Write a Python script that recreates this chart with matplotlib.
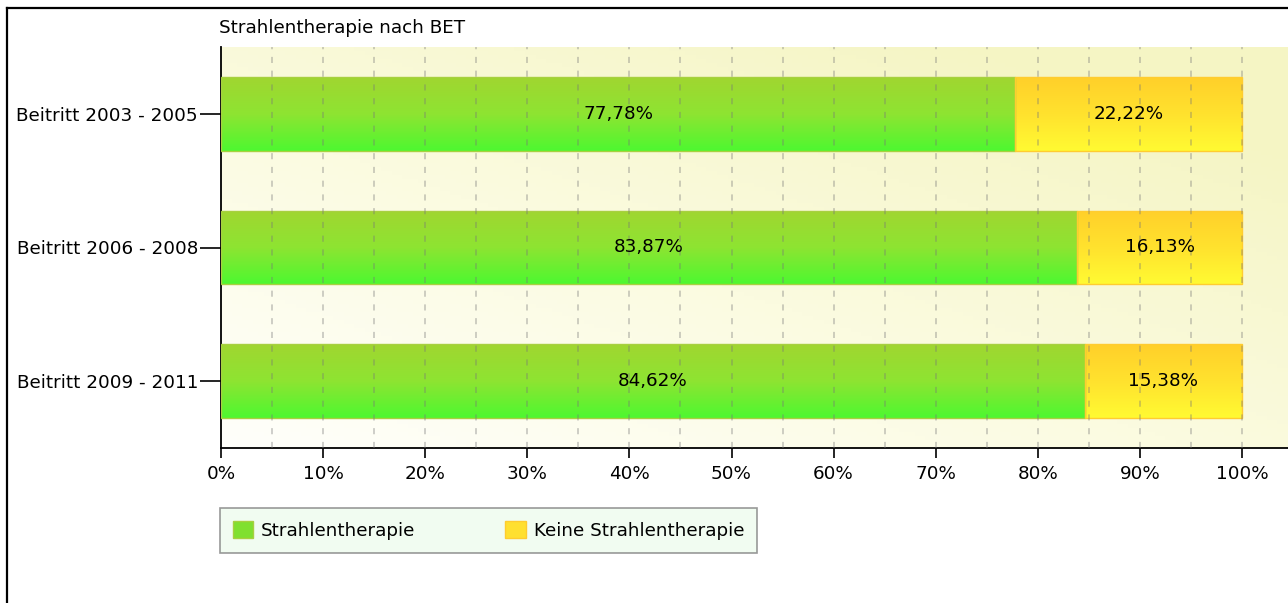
import matplotlib
matplotlib.use("Agg")
import matplotlib.pyplot as plt
import numpy as np
from matplotlib.lines import Line2D
from matplotlib.patches import Patch
from matplotlib.colors import LinearSegmentedColormap

# data
categories = ["Beitritt 2003 - 2005", "Beitritt 2006 - 2008", "Beitritt 2009 - 2011"]
strahlen = [77.78, 83.87, 84.62]
keine = [22.22, 16.13, 15.38]
series_names = ["Strahlentherapie", "Keine Strahlentherapie"]
x_ticks = [0, 10, 20, 30, 40, 50, 60, 70, 80, 90, 100]
title = "Strahlentherapie nach BET"

W, H = 1288, 603
FS = 13.2

plt.rcParams["font.family"] = ["DejaVu Sans"]
fig = plt.figure(figsize=(W / 100, H / 100), dpi=100)
fig.patch.set_facecolor("white")

ax_l, ax_r, ax_t, ax_b = 221, 1288, 47, 448
ax = fig.add_axes([ax_l / W, 1 - ax_b / H, (ax_r - ax_l) / W, (ax_b - ax_t) / H])
ax.set_xlim(0, (ax_r - ax_l) / 1021 * 100)
ax.set_ylim(len(categories) - 0.5, -0.5)

# background: pale yellow gradient, lighter towards bottom-left
gx, gy = np.meshgrid(np.linspace(0, 1, 200), np.linspace(0, 1, 100))
t = np.clip(0.55 * gx + 0.6 * gy, 0, 1)
bg_cmap = LinearSegmentedColormap.from_list("bg", ["#fffffb", "#fbfbe0", "#f5f5c4"])
ax.imshow(t, cmap=bg_cmap, extent=(0, 1, 0, 1), origin="lower",
          transform=ax.transAxes, aspect="auto", zorder=0)
ax.patch.set_visible(False)

green_cmap = LinearSegmentedColormap.from_list("g", ["#a0d630", "#8ee432", "#4ef830"])
yellow_cmap = LinearSegmentedColormap.from_list("y", ["#ffd02a", "#ffe22e", "#fffa32"])
vgrad = np.linspace(0, 1, 100).reshape(-1, 1)

y = np.arange(len(categories))
h = 0.55
b1 = ax.barh(y, strahlen, height=h, color="none", edgecolor="#a8d040",
             linewidth=1, zorder=3)
b2 = ax.barh(y, keine, left=strahlen, height=h, color="none", edgecolor="#ffcc30",
             linewidth=1, zorder=3)

for bars, cm in ((b1, green_cmap), (b2, yellow_cmap)):
    for bar in bars:
        x0, y0 = bar.get_x(), bar.get_y()
        x1, y1 = x0 + bar.get_width(), y0 + bar.get_height()
        im = ax.imshow(vgrad, cmap=cm, extent=(x0, x1, y1, y0), origin="upper",
                       aspect="auto", zorder=2)
        im.set_clip_path(bar)

# value labels
for i in range(len(categories)):
    ax.text(strahlen[i] / 2, y[i], f"{strahlen[i]:.2f}%".replace(".", ","),
            ha="center", va="center", fontsize=FS, zorder=5)
    ax.text(strahlen[i] + keine[i] / 2, y[i], f"{keine[i]:.2f}%".replace(".", ","),
            ha="center", va="center", fontsize=FS, zorder=5)

# dashed grid every 5 %
for gxv in np.arange(5, 101, 5):
    ax.axvline(gxv, color="#777777", lw=1.1, ls=(0, (4, 5)), alpha=0.45, zorder=4)

ax.set_xticks(x_ticks)
ax.set_xticklabels([f"{v}%" for v in x_ticks], fontsize=FS)
ax.set_yticks(y)
ax.set_yticklabels(categories, fontsize=FS)
ax.tick_params(axis="y", length=15, width=1.2, pad=1.5)
ax.tick_params(axis="x", length=7.5, width=1.2, pad=5)
for s in ("top", "right"):
    ax.spines[s].set_visible(False)
ax.spines["left"].set_linewidth(1.3)
ax.spines["bottom"].set_linewidth(1.3)

fig.text(219 / W, 1 - 28 / H, title, ha="left", va="center", fontsize=FS)

# outer frame (left and top edges only visible)
fig.add_artist(Line2D([6.5 / W, 6.5 / W], [0, 1 - 7.5 / H], color="black", lw=1.6))
fig.add_artist(Line2D([6.5 / W, 1], [1 - 7.5 / H, 1 - 7.5 / H], color="black", lw=1.6))

handles = [Patch(facecolor="#80e030", edgecolor="#a8d040"),
           Patch(facecolor="#ffe030", edgecolor="#ffcc30")]
leg = fig.legend(handles, series_names, loc="upper left", ncol=2,
                 bbox_to_anchor=(220 / W, 1 - 508 / H),
                 fontsize=FS, frameon=True, fancybox=False, borderaxespad=0,
                 handlelength=1.1, handleheight=1.1, handletextpad=0.45,
                 columnspacing=4.9, borderpad=0.7)
leg.get_frame().set_facecolor("#eefcee")
leg.get_frame().set_edgecolor("#808080")
leg.get_frame().set_linewidth(1.2)

fig.savefig("out.png", dpi=100)
